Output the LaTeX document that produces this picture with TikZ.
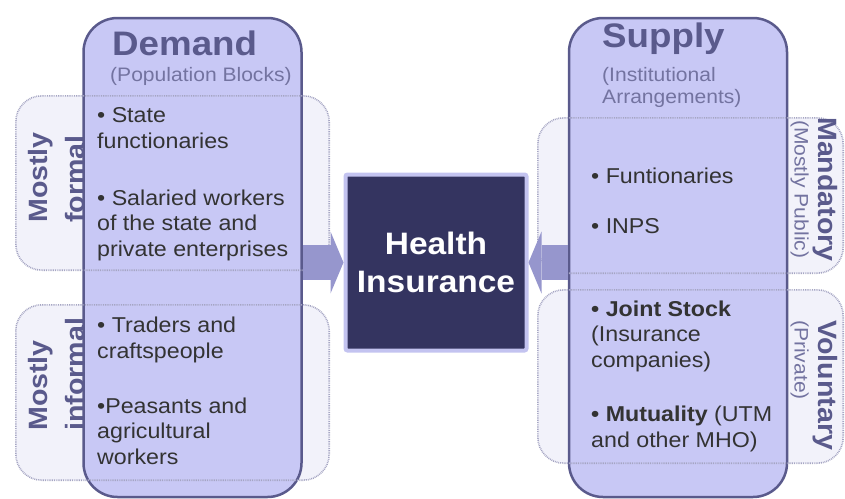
\documentclass[tikz,border=0pt]{standalone}
\usepackage{fontspec}
\setmainfont{Liberation Sans}[FakeStretch=1.08]
\usetikzlibrary{arrows.meta}

\definecolor{colfill}{RGB}{200,200,245}
\definecolor{colline}{RGB}{90,90,140}
\definecolor{bandfill}{RGB}{242,242,250}
\definecolor{bandline}{RGB}{165,165,195}
\definecolor{hifill}{RGB}{52,52,96}
\definecolor{hiline}{RGB}{195,195,240}
\definecolor{arrowfill}{RGB}{150,150,205}
\definecolor{itemtext}{RGB}{51,51,51}
\definecolor{labeltext}{RGB}{90,90,140}
\definecolor{subtext}{RGB}{115,115,160}

\begin{document}
\begin{tikzpicture}[x=1pt,y=-1pt,
  column/.style={draw=colline,fill=colfill,line width=2.5pt,rounded corners=34pt,
    minimum width=218pt,minimum height=479pt,inner sep=0pt},
  band/.style={fill=bandfill,rounded corners=26pt,inner sep=0pt},
  bandedge/.style={draw=bandline,line width=1.6pt,dash pattern=on 0.9pt off 0.9pt,rounded corners=26pt},
  flow/.style={draw=arrowfill,line width=35pt,-{Triangle[width=62pt,length=13pt,line width=0pt]}},
  hibox/.style={fill=hifill,draw=hiline,line width=4pt,rounded corners=2pt,
    minimum width=181pt,minimum height=176pt,text=white,align=center,
    font=\bfseries\fontsize{31}{38}\selectfont},
  title/.style={anchor=base west,inner sep=0pt,text=labeltext,font=\bfseries\fontsize{34}{40}\selectfont},
  subtitle/.style={anchor=base west,align=left,inner sep=0pt,text=subtext,font=\fontsize{19.5}{22}\selectfont},
  item/.style={anchor=base west,align=left,inner sep=0pt,text=itemtext,font=\fontsize{21.5}{25.5}\selectfont},
  side/.style={anchor=north west,align=left,inner sep=0pt,text=labeltext,font=\bfseries\fontsize{26.5}{37}\selectfont},
  sidesub/.style={anchor=north west,inner sep=0pt,text=subtext,font=\fontsize{19.5}{22}\selectfont}]

  \useasboundingbox (0,0) rectangle (845,498);

  % bands behind the columns
  \node[band,minimum width=313pt,minimum height=174pt] (formal) at (172.5,183) {};
  \node[band,minimum width=313pt,minimum height=175pt] (informal) at (172.5,392.5) {};
  \node[band,minimum width=305pt,minimum height=155pt] (mandatory) at (690.5,195.5) {};
  \node[band,minimum width=305pt,minimum height=173pt] (voluntary) at (690.5,376.5) {};

  % columns
  \node[column] (demand) at (192.5,257.5) {};
  \node[column] (supply) at (678,257.5) {};

  \foreach \b in {formal,informal,mandatory,voluntary}
    \draw[bandedge] (\b.north west) rectangle (\b.south east);

  % centre box and arrows
  \node[hibox] (hi) at (436,262.5) {Health\\Insurance};
  \draw[flow] (demand.east |- hi.west) -- (hi.west);
  \draw[flow] (supply.west |- hi.east) -- (hi.east);

  % titles (base = last line)
  \node[title] (dtitle) at (112,55) {Demand};
  \node[subtitle] (dsub) at (110,81) {(Population Blocks)};
  \node[title] (stitle) at (602,47) {Supply};
  \node[subtitle] (ssub) at (602,103) {(Institutional\\Arrangements)};

  % demand items
  \node[item] (state) at (97,148) {• State\\functionaries};
  \node[item] (salaried) at (97,256) {• Salaried workers\\of the state and\\private enterprises};
  \node[item] (traders) at (97,358) {• Traders and\\craftspeople};
  \node[item] (peasants) at (97,464) {•Peasants and\\agricultural\\workers};

  % supply items
  \node[item] (funct) at (591,183) {• Funtionaries};
  \node[item] (inps) at (591,233) {• INPS};
  \node[item] (joint) at (591,367) {\textbf{• Joint Stock}\\(Insurance\\companies)};
  \node[item] (mutual) at (591,447) {\textbf{• Mutuality} (UTM\\and other MHO)};

  % side labels
  \node[side,rotate=90] (mformal) at (28,223) {Mostly\\formal};
  \node[side,rotate=90] (minformal) at (28,431) {Mostly\\informal};
  \node[side,rotate=-90] (mand) at (838,117) {Mandatory};
  \node[sidesub,rotate=-90] (mpub) at (809,120) {(Mostly Public)};
  \node[side,rotate=-90] (vol) at (838,320) {Voluntary};
  \node[sidesub,rotate=-90] (vpriv) at (809,320) {(Private)};

\end{tikzpicture}
\end{document}
